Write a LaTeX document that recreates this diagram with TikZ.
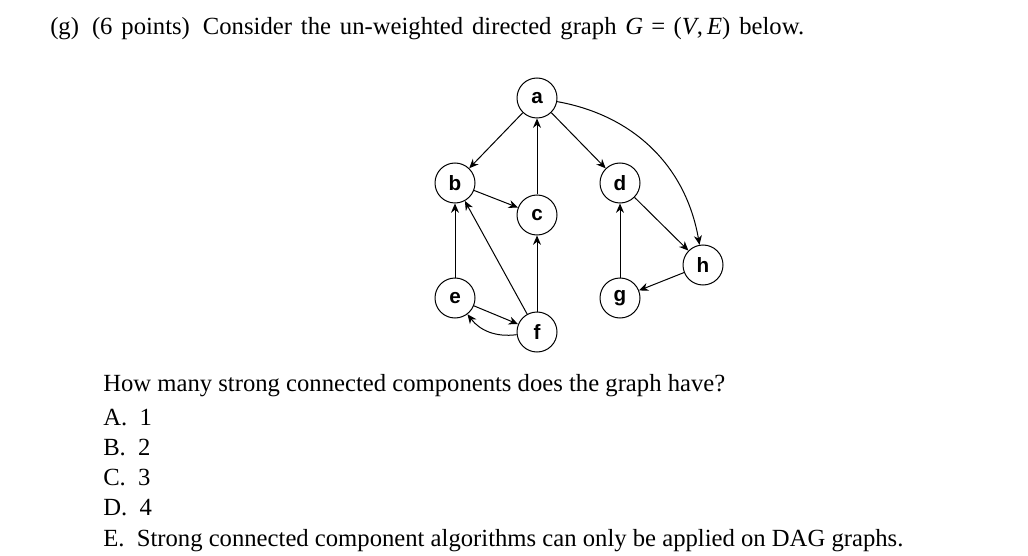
\documentclass[tikz,border=0pt]{standalone}
\usepackage{fontspec}
\setmainfont{Liberation Serif}
\setsansfont{Liberation Sans}
\usetikzlibrary{arrows.meta}
\begin{document}
\begin{tikzpicture}[x=0.75pt,y=-0.75pt,
  vert/.style={circle,draw,line width=0.75pt,minimum size=30pt,inner sep=0pt,font=\sffamily\bfseries\fontsize{15.5}{15.5}\selectfont},
  edge/.style={line width=0.75pt,-{Stealth[length=7pt,width=6pt]}},
  txt/.style={anchor=base west,inner sep=0pt,font=\fontsize{18.5}{18.5}\selectfont}]
\useasboundingbox (0,0) rectangle (1028,556);
\node[txt] (title) at (50,35) {\spaceskip=0.36em (g) \,(6 points) \,Consider the un-weighted directed graph \textit{G}\,\,=\,\,(\textit{V},\,\textit{E}) below.};
\node[vert] (a) at (537,98) {a};
\node[vert] (b) at (455,183) {b};
\node[vert] (c) at (537,215) {c};
\node[vert] (d) at (620,183) {d};
\node[vert] (h) at (703,265) {h};
\node[vert] (e) at (455,298) {e};
\node[vert] (g) at (620,298) {g};
\node[vert] (f) at (537,332) {f};
\draw[edge] (a) -- (b);
\draw[edge] (b) -- (c);
\draw[edge] (c) -- (a);
\draw[edge] (a) -- (d);
\draw[edge] (a) to[bend left=35] (h);
\draw[edge] (d) -- (h);
\draw[edge] (h) -- (g);
\draw[edge] (g) -- (d);
\draw[edge] (e) -- (b);
\draw[edge] (f) -- (b);
\draw[edge] (f) -- (c);
\draw[edge] (e) -- (f);
\draw[edge] (f) to[bend left=30] (e);
\node[txt] (q) at (103,391) {How many strong connected components does the graph have?};
\node[txt] (oa) at (103,425) {A. \ 1};
\node[txt] (ob) at (103,455) {B. \ 2};
\node[txt] (oc) at (103,485) {C. \ 3};
\node[txt] (od) at (103,515) {D. \ 4};
\node[txt] (oe) at (103,546) {E. \ Strong connected component algorithms can only be applied on DAG graphs.};
\end{tikzpicture}
\end{document}
